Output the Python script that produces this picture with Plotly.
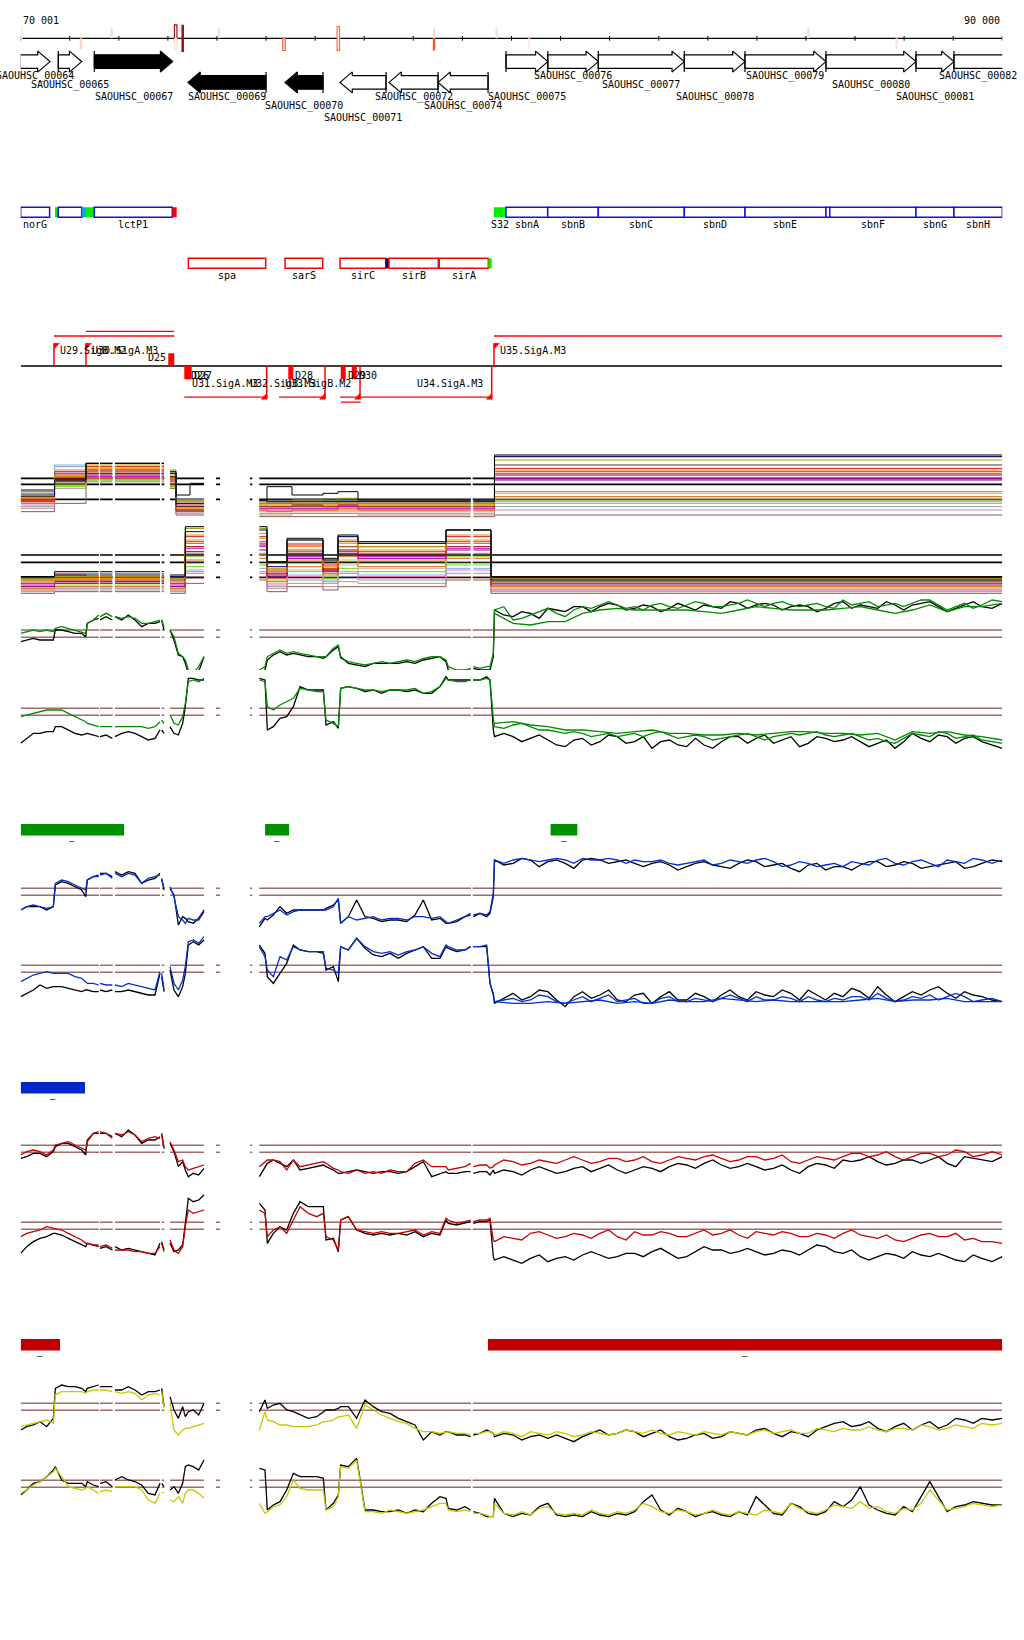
import plotly.graph_objects as go
from plotly.colors import sample_colorscale

W, H = 1024, 1640
XMIN, XMAX = 70001, 90000
FONT = "DejaVu Sans Mono"

# ---------------- genome scale ----------------
TICKS = [70001] + [71000 + 1000 * k for k in range(20)]
TSS_POS = [70001, 71230, 71855, 73159, 73159, 73302, 74041, 75366, 76472, 78422, 78422, 79699, 80363, 86047, 87848]
TSS_STRAND = ['+', '-', '+', '+', '-', 'b', '+', '-', 'b', '+', '-', '+', '-', '+', '-']
TSS_SCORE = [0.12, 0.16, 0.14, 0.88, 0.12, 0.9, 0.14, 0.55, 0.5, 0.12, 0.55, 0.13, 0.06, 0.14, 0.12]
TSS_FILLED = [0, 1, 1, 0, 0, 1, 1, 0, 0, 1, 1, 1, 1, 1, 1]

# ---------------- genes ----------------
GENE_IDS = ['SAOUHSC_00064', 'SAOUHSC_00065', 'SAOUHSC_00067', 'SAOUHSC_00069', 'SAOUHSC_00070',
            'SAOUHSC_00071', 'SAOUHSC_00072', 'SAOUHSC_00074', 'SAOUHSC_00075', 'SAOUHSC_00076',
            'SAOUHSC_00077', 'SAOUHSC_00078', 'SAOUHSC_00079', 'SAOUHSC_00080', 'SAOUHSC_00081',
            'SAOUHSC_00082']
GENE_START = [69990, 70767, 71501, 73409, 75386, 76507, 77505, 78504, 79889, 80740, 81769, 83521, 84757, 86407, 88241, 89015]
GENE_END = [70598, 71244, 73098, 74999, 76160, 77444, 78504, 79523, 80740, 81769, 83521, 84757, 86407, 88241, 89015, 90400]
GENE_STRAND = ['+', '+', '+', '-', '-', '-', '-', '-', '+', '+', '+', '+', '+', '+', '+', '+']
GENE_DARK = [0, 0, 1, 1, 1, 0, 0, 0, 0, 0, 0, 0, 0, 0, 0, 0]

# ---------------- annotated features ----------------
F1_START = [70001, 70700, 70767, 71244, 71331, 71501, 73090, 79642, 79888, 80738, 81769, 83521, 84758, 86407, 86485, 88241, 89015]
F1_END = [70590, 70767, 71244, 71331, 71501, 73090, 73179, 79888, 80738, 81769, 83521, 84758, 86407, 86485, 88241, 89015, 90000]
F1_KIND = ['box', 'lime', 'box', 'sky', 'lime', 'box', 'red', 'lime', 'box', 'box', 'box', 'box', 'box', 'box', 'box', 'box', 'box']
F1_LABEL = ['norG', '', '', '', '', 'lctP1', '', 'S32', 'sbnA', 'sbnB', 'sbnC', 'sbnD', 'sbnE', '', 'sbnF', 'sbnG', 'sbnH']
F2_START = [73416, 75386, 76507, 77437, 77504, 78530, 79528]
F2_END = [74993, 76154, 77437, 77504, 78509, 79528, 79597]
F2_KIND = ['box', 'box', 'box', 'navy', 'box', 'box', 'lime']
F2_LABEL = ['spa', 'sarS', 'sirC', '', 'sirB', 'sirA', '']

# ---------------- transcription units ----------------
TX_START = [70679, 71331, 79644, 73334, 75264, 76507, 76521]
TX_END = [73130, 73130, 90000, 75033, 76215, 79597, 76928]
TX_LEVEL = [1, 2, 1, -1, -1, -1, -2]
PROM_NAMES = ['U29.SigB.M2', 'U30.SigA.M3', 'U31.SigA.M3', 'U32.SigB.M3', 'U33.SigB.M2', 'U34.SigA.M3', 'U35.SigA.M3']
PROM_POS = [70679, 71331, 75013, 76201, 76914, 79597, 79644]
PROM_STRAND = ['+', '+', '-', '-', '-', '-', '+']
TERM_NAMES = ['D25', 'D26', 'D27', 'D28', 'D29', 'D30']
TERM_START = [73008, 73334, 73380, 75453, 76521, 76745]
TERM_END = [73130, 73440, 73485, 75555, 76623, 76847]
TERM_STRAND = ['+', '-', '-', '-', '-', '-']

# ---------------- coverage (probe positions with data) ----------------
REF_COVER = [[70001, 71596], [71617, 71875], [71922, 72839], [72874, 72927], [73043, 73736],
             [73980, 74062], [74673, 74720], [74862, 79175], [79210, 90000]]
LINE_COVER = [[70001, 71590], [71617, 71868], [71922, 72839], [72873, 72921], [73043, 73736],
              [74863, 79168], [79223, 90000]]

# ---------------- multi-condition profiles (step levels) ----------------
A_EDGES = [70001, 70690, 71331, 72921, 73043, 73165, 73450, 73736, 74836, 75019, 75528, 76160, 76466, 76873, 79654, 90000]
B_EDGES = [70001, 70690, 71331, 72921, 73043, 73355, 73736, 74836, 75019, 75427, 76160, 76466, 76873, 78666, 79583, 90000]
PROFILE_COLORS = {
    'black': '#000000', 'navy': '#00006e', 'olive': '#8b8b00', 'olive2': '#b0a000', 'black2': '#3a3a3a',
    'red': '#e01010', 'orange': '#ff8c00', 'brown': '#a0522d', 'orangered': '#ff4500', 'darkred': '#8b0000',
    'magenta': '#cc00cc', 'purple': '#800080', 'orange2': '#e8701a', 'olive3': '#9acd32', 'orange3': '#d2691e',
    'tan': '#d2b48c', 'lime': '#66dd00', 'lightblue': '#6fb0ff', 'pink': '#ff69b4', 'grey': '#999999',
    'rosy': '#bc8f8f', 'sienna': '#8b5a4a'}
A_PROFILES = [
    ('black', [170, 176, 186, 181, 167, 174, 164, 172, 167, 168, 169, 164, 191]),
    ('navy', [167, 176, 186, 180, 162, 162, 164, 163, 163, 163, 163, 163, 190]),
    ('olive', [169, 180, 186, 182, 164, 164, 163, 162, 164, 163, 165, 163, 190]),
    ('olive2', [168, 178, 185, 179, 163, 163, 162, 162, 162, 162, 162, 162, 188]),
    ('black2', [166, 175, 180, 178, 160, 160, 164, 164, 164, 164, 164, 164, 185]),
    ('red', [166, 179, 184, 180, 161, 161, 162, 162, 162, 162, 163, 162, 183]),
    ('orange', [165, 176, 183, 177, 159, 159, 161, 161, 162, 161, 162, 161, 182]),
    ('brown', [166, 174, 182, 176, 158, 158, 160, 160, 160, 160, 161, 160, 181]),
    ('orangered', [164, 178, 181, 175, 162, 162, 162, 162, 162, 162, 162, 162, 180]),
    ('darkred', [164, 177, 179, 178, 160, 160, 160, 160, 161, 160, 161, 160, 179]),
    ('magenta', [163, 181, 178, 174, 157, 157, 159, 159, 159, 159, 160, 159, 177]),
    ('purple', [165, 180, 180, 178, 158, 158, 160, 160, 160, 160, 160, 160, 176]),
    ('orange2', [164, 174, 177, 176, 160, 160, 158, 158, 158, 158, 159, 158, 169]),
    ('olive3', [168, 173, 184, 180, 164, 164, 161, 161, 161, 161, 162, 161, 168]),
    ('orange3', [162, 174, 182, 173, 158, 158, 158, 157, 158, 158, 158, 158, 166]),
    ('tan', [162, 182, 182, 174, 156, 156, 157, 157, 157, 157, 157, 157, 165]),
    ('lime', [163, 172, 176, 172, 162, 162, 161, 160, 161, 161, 161, 161, 164]),
    ('lightblue', [163, 185, 178, 174, 164, 164, 164, 163, 164, 164, 164, 164, 163]),
    ('pink', [161, 182, 180, 176, 160, 160, 158, 158, 158, 158, 159, 158, 162]),
    ('grey', [160, 184, 176, 172, 156, 156, 156, 156, 156, 156, 156, 156, 160]),
    ('rosy', [159, 171, 175, 172, 156, 156, 155, 155, 156, 156, 156, 155, 158]),
    ('sienna', [157, 162, 174, 171, 155, 155, 154, 154, 154, 154, 154, 154, 155]),
]
B_PROFILES = [
    ('black', [118, 121, 121, 119, 148, 148, 127, 141, 129, 143, 139, 146, 118]),
    ('navy', [118, 119, 119, 118, 145, 146, 124, 140, 128, 142, 138, 146, 116]),
    ('olive', [117, 120, 120, 118, 147, 147, 126, 140, 128, 142, 138, 146, 117]),
    ('olive2', [116, 118, 118, 117, 143, 144, 123, 138, 126, 140, 136, 143, 116]),
    ('red', [116, 119, 118, 116, 142, 142, 122, 137, 125, 139, 136, 142, 118]),
    ('orange', [115, 117, 117, 115, 140, 141, 121, 136, 124, 138, 134, 140, 116]),
    ('brown', [114, 116, 116, 114, 139, 139, 120, 134, 123, 136, 133, 139, 115]),
    ('orangered', [114, 116, 116, 114, 138, 138, 121, 133, 123, 136, 132, 138, 114]),
    ('darkred', [114, 115, 115, 114, 136, 137, 120, 132, 122, 134, 131, 136, 114]),
    ('magenta', [113, 114, 114, 113, 135, 136, 119, 130, 122, 133, 130, 135, 114]),
    ('purple', [112, 114, 114, 112, 133, 134, 118, 129, 121, 132, 129, 134, 113]),
    ('orange2', [112, 114, 114, 112, 132, 132, 117, 128, 120, 130, 128, 132, 112]),
    ('olive3', [112, 113, 113, 112, 130, 131, 116, 126, 120, 128, 126, 130, 112]),
    ('orange3', [111, 112, 112, 111, 128, 129, 115, 124, 119, 127, 124, 129, 112]),
    ('tan', [110, 112, 112, 110, 126, 127, 114, 122, 118, 125, 123, 127, 111]),
    ('lime', [118, 118, 118, 117, 124, 125, 119, 121, 117, 123, 121, 125, 114]),
    ('lightblue', [117, 118, 118, 116, 122, 123, 117, 119, 116, 121, 119, 123, 116]),
    ('pink', [110, 112, 112, 110, 121, 121, 113, 118, 115, 120, 118, 122, 110]),
    ('grey', [110, 111, 111, 110, 120, 120, 112, 116, 114, 118, 116, 120, 110]),
    ('rosy', [109, 110, 110, 109, 117, 118, 111, 114, 112, 115, 114, 118, 109]),
    ('sienna', [108, 109, 109, 108, 114, 116, 109, 112, 110, 112, 112, 116, 108]),
]
A_REF = [177, 173.4, 164.4]
B_REF = [131, 126.6, 117.6]

# ---------------- probe positions for two-condition profiles ----------------
XS = [
    [70001, 70123, 70258, 70394, 70530, 70666, 70707, 70836, 70971, 71107, 71243, 71325, 71358, 71481, 71590],
    [71617, 71739, 71868],
    [71922, 72058, 72194, 72330, 72466, 72601, 72737, 72839],
    [72873, 72921],
    [73043, 73124, 73213, 73301, 73355, 73416, 73518, 73627, 73736],
    [74863, 74978, 75026, 75148, 75284, 75420, 75556, 75692, 75861, 76031, 76167, 76221, 76371, 76472, 76520, 76676,
     76846, 77016, 77185, 77355, 77525, 77695, 77865, 78034, 78204, 78374, 78543, 78665, 78713, 78883, 79052, 79168],
    [79223, 79358, 79494, 79562, 79630, 79654, 80033, 80387, 80742, 81095, 81447, 81802, 82156, 82509, 82863, 83216,
     83570, 83924, 84277, 84631, 84984, 85338, 85693, 86045, 86400, 86754, 87107, 87461, 87814, 88168, 88523, 88876,
     89230, 89583, 90000],
]
# extra probes between the right-hand positions (after the first 5 of the last block)
X_MID = [79844, 80210, 80565, 80918, 81271, 81625, 81979, 82333, 82686, 83040, 83393, 83747, 84101, 84454, 84808,
         85161, 85516, 85869, 86223, 86577, 86931, 87284, 87638, 87991, 88346, 88700, 89053, 89407, 89792]
NONE5 = [None] * 5

C_TOP_BLACK = [
    [79, 80, 81, 80, 80, 80, 86, 86, 85, 84, 84, 82, 90, 92, 93], [92, 94, 92], [94, 92, 95, 92, 88, 90, 90, 91], [92, 86],
    [86, 80, 71, 70, 66, 60, 59, 61, 70],
    [61, 62, 68, 71, 73, 71, 72, 71, 70, 70, 69, 70, 74, 76, 70, 66, 65, 64, 66, 66, 66, 66, 67, 66, 68, 69, 70, 67, 62, 60, 61, 62],
    [63, 62, 62, 62, 70, 98, 94, 96, 99, 97, 100, 100, 101, 99, 100, 99, 100, 101, 99, 102, 101, 101, 100, 100, 99, 103, 101, 99, 101, 101, 103, 97, 101, 100, 102]]
C_TOP_BLACK_MID = [95, 97, 93, 98, 100, 97, 102, 98, 101, 97, 102, 98, 100, 103, 99, 102, 98, 101, 97, 102, 99, 100, 103, 98, 102, 100, 99, 103, 99]
C_TOP_GREEN = [
    [84, 85, 86, 85, 86, 85, 87, 88, 87, 86, 85, 84, 90, 92, 95], [94, 96, 94], [94, 93, 94, 93, 90, 90, 91, 92], [92, 88],
    [86, 82, 72, 70, 68, 62, 60, 64, 70],
    [62, 64, 70, 72, 74, 72, 73, 72, 71, 70, 70, 70, 75, 77, 69, 67, 66, 65, 66, 67, 66, 67, 68, 67, 69, 70, 70, 68, 64, 62, 62, 63],
    [64, 63, 64, 64, 72, 98, 92, 95, 99, 94, 100, 101, 101, 100, 101, 100, 101, 102, 100, 102, 102, 102, 101, 101, 100, 104, 102, 100, 102, 102, 104, 98, 102, 101, 103]]
C_TOP_GREEN_MID = [100, 93, 97, 96, 98, 99, 103, 99, 98, 102, 99, 103, 100, 101, 104, 100, 103, 100, 102, 99, 101, 103, 101, 100, 104, 101, 100, 99, 104]
C_TOP_GREEN2 = [[], [], [], [], [], [],
    NONE5 + [96, 90, 89, 91, 91, 96, 98, 99, 98, 98, 98, 98, 97, 96, 98, 100, 99, 98, 98, 98, 99, 100, 98, 96, 98, 101, 97, 100, 100, 102]]

D_BLACK = [
    [18, 21, 24, 24, 25, 25, 28, 28, 26, 24, 23, 24, 24, 23, 22], [22, 23, 21], [22, 24, 25, 24, 22, 20, 21, 26], [26, 24],
    [28, 24, 23, 30, 40, 57, 57, 56, 56],
    [57, 56, 26, 28, 33, 34, 40, 52, 50, 50, 50, 29, 31, 27, 51, 52, 51, 49, 50, 48, 50, 50, 49, 50, 48, 48, 52, 58, 56, 56, 56, 56],
    [56, 56, 58, 56, 26, 22, 22, 21, 20, 16, 21, 19, 22, 19, 15, 20, 16, 17, 19, 22, 21, 18, 22, 18, 21, 20, 19, 18, 15, 24, 19, 22, 21, 19, 15]]
D_BLACK_MID = [24, 19, 23, 17, 20, 17, 23, 18, 22, 19, 17, 21, 15, 22, 18, 23, 20, 16, 22, 19, 22, 16, 20, 19, 21, 23, 18, 22, 17]
D_GREEN = [
    [34, 35, 36, 37, 38, 38, 38, 38, 36, 34, 32, 31, 30, 29, 28], [28, 28, 28], [28, 28, 28, 28, 28, 27, 28, 31], [32, 30],
    [35, 30, 29, 34, 42, 55, 56, 55, 57],
    [56, 55, 40, 38, 41, 43, 45, 51, 50, 49, 49, 32, 30, 28, 51, 52, 51, 50, 50, 49, 50, 50, 50, 51, 48, 49, 52, 57, 56, 55, 55, 56],
    [56, 56, 57, 56, 33, 28, 29, 28, 26, 24, 24, 23, 22, 24, 24, 23, 22, 22, 21, 23, 22, 22, 24, 24, 23, 23, 22, 21, 18, 24, 22, 24, 22, 20, 18]]
D_GREEN_MID = [27, 30, 26, 25, 25, 22, 24, 23, 22, 25, 21, 23, 20, 22, 24, 20, 23, 23, 25, 22, 24, 20, 19, 21, 23, 25, 21, 23, 19]
D_GREEN2 = [[], [], [], [], [], [],
    NONE5 + [30, 31, 29, 28, 26, 26, 25, 24, 25, 26, 24, 24, 23, 23, 24, 23, 24, 25, 25, 24, 24, 23, 24, 20, 25, 24, 25, 23, 22, 20]]

E_TOP_BLACK = [
    [140, 142, 142, 142, 140, 142, 155, 157, 156, 154, 152, 148, 158, 160, 161], [162, 162, 160],
    [163, 161, 163, 162, 156, 158, 159, 162], [159, 152], [153, 149, 131, 136, 135, 133, 132, 135, 140],
    [130, 135, 134, 137, 142, 138, 140, 140, 140, 140, 140, 141, 143, 146, 132, 136, 146, 136, 135, 133, 134, 134, 133, 137, 146, 134, 135, 132, 132, 133, 136, 137],
    [136, 138, 136, 138, 148, 170, 168, 170, 169, 168, 170, 170, 169, 168, 168, 167, 166, 169, 166, 168, 169, 167, 165, 167, 164, 166, 167, 169, 167, 168, 166, 168, 165, 168, 169]]
E_TOP_BLACK_MID = [167, 171, 166, 170, 165, 171, 168, 170, 166, 169, 164, 168, 167, 165, 170, 166, 168, 163, 168, 166, 164, 169, 166, 169, 165, 167, 169, 166, 170]
E_TOP_BLUE = [
    [140, 142, 143, 142, 141, 142, 156, 158, 157, 155, 153, 152, 158, 160, 160], [161, 162, 159],
    [162, 160, 162, 161, 156, 159, 160, 161], [158, 153], [154, 148, 136, 134, 132, 135, 134, 134, 139],
    [132, 136, 136, 138, 140, 137, 139, 140, 140, 140, 140, 140, 142, 147, 132, 136, 134, 135, 136, 134, 135, 135, 134, 136, 136, 135, 136, 133, 132, 134, 136, 138],
    [137, 138, 137, 139, 150, 170, 170, 170, 170, 170, 171, 170, 170, 170, 169, 168, 168, 170, 168, 169, 170, 169, 167, 168, 167, 166, 168, 170, 168, 169, 168, 170, 168, 170, 170]]
E_TOP_BLUE_MID = [168, 171, 169, 171, 168, 170, 171, 168, 169, 170, 167, 169, 167, 170, 168, 171, 166, 169, 166, 168, 169, 167, 171, 167, 170, 166, 169, 171, 168]
E_BOT_BLACK = [
    [88, 90, 92, 95, 93, 94, 94, 94, 93, 92, 91, 92, 92, 91, 91], [92, 91, 92], [91, 91, 92, 91, 90, 89, 89, 102], [100, 91],
    [104, 92, 88, 94, 102, 119, 121, 119, 122],
    [119, 114, 100, 96, 102, 108, 119, 116, 115, 115, 114, 104, 106, 97, 118, 116, 123, 117, 113, 112, 114, 111, 114, 116, 118, 111, 111, 118, 117, 115, 116, 118],
    [118, 118, 118, 96, 89, 84, 90, 88, 91, 82, 91, 89, 86, 89, 84, 91, 86, 88, 89, 88, 91, 88, 90, 92, 86, 88, 91, 94, 85, 91, 92, 90, 91, 88, 85]]
E_BOT_BLACK_MID = [87, 86, 92, 86, 88, 87, 92, 85, 90, 88, 86, 90, 85, 92, 86, 89, 92, 86, 89, 90, 93, 87, 89, 88, 89, 94, 87, 89, 86]
E_BOT_BLUE = [
    [97, 99, 101, 102, 103, 102, 102, 102, 102, 100, 99, 97, 96, 96, 95], [96, 95, 95], [95, 94, 96, 95, 94, 93, 92, 103], [102, 92],
    [106, 96, 92, 98, 106, 121, 122, 120, 124],
    [118, 112, 104, 100, 112, 110, 118, 116, 115, 115, 115, 105, 104, 102, 118, 116, 123, 118, 115, 114, 115, 113, 115, 116, 118, 114, 112, 119, 118, 116, 116, 118],
    [118, 118, 119, 96, 90, 85, 87, 86, 88, 84, 88, 87, 85, 87, 84, 88, 85, 86, 87, 87, 88, 86, 87, 88, 85, 86, 88, 90, 85, 88, 89, 88, 88, 86, 85]]
E_BOT_BLUE_MID = [86, 85, 89, 85, 86, 85, 89, 86, 84, 87, 85, 87, 85, 89, 85, 86, 88, 85, 86, 87, 88, 86, 87, 86, 87, 86, 90, 85, 87]
E_BOT_BLUE2 = [[], [], [], [], [], [],
    NONE5 + [85, 84, 84, 85, 84, 85, 86, 84, 85, 84, 86, 85, 85, 87, 86, 85, 86, 85, 85, 85, 85, 86, 87, 85, 86, 86, 87, 85, 85, 85]]

G_TOP_BLACK = [
    [147, 148, 150, 150, 148, 151, 154, 156, 156, 154, 152, 149, 158, 162, 162], [162, 162, 160],
    [162, 160, 164, 161, 156, 158, 158, 160], [162, 153], [156, 151, 142, 145, 140, 136, 138, 137, 141],
    [136, 142, 144, 146, 144, 142, 146, 140, 141, 142, 143, 142, 140, 138, 138, 139, 140, 139, 138, 139, 139, 138, 139, 142, 145, 136, 138, 139, 138, 138, 139, 139],
    [138, 139, 139, 137, 140, 138, 139, 140, 140, 139, 142, 141, 140, 140, 141, 142, 143, 144, 143, 142, 142, 141, 140, 142, 143, 146, 146, 145, 144, 146, 146, 144, 148, 146, 148]]
G_TOP_BLACK_MID = [140, 137, 142, 138, 141, 139, 143, 138, 142, 139, 144, 141, 146, 141, 144, 140, 143, 138, 144, 141, 145, 148, 143, 146, 144, 148, 142, 147, 145]
G_TOP_RED = [
    [149, 151, 152, 151, 149, 152, 155, 156, 157, 155, 153, 152, 157, 162, 163], [163, 162, 159],
    [162, 161, 163, 161, 157, 159, 160, 159], [161, 153], [157, 152, 145, 146, 142, 140, 141, 142, 143],
    [142, 145, 146, 146, 145, 140, 146, 142, 143, 144, 145, 144, 141, 140, 139, 138, 140, 138, 139, 138, 140, 139, 139, 144, 146, 142, 142, 142, 140, 141, 142, 144],
    [142, 143, 143, 141, 142, 143, 145, 144, 145, 146, 146, 145, 147, 146, 145, 146, 147, 148, 147, 146, 148, 147, 145, 146, 147, 148, 150, 149, 148, 148, 150, 149, 151, 149, 149]]
G_TOP_RED_MID = [146, 143, 146, 144, 148, 144, 147, 145, 148, 144, 148, 146, 149, 145, 148, 146, 149, 144, 148, 146, 150, 148, 151, 146, 150, 148, 152, 148, 151]
G_BOT_BLACK = [
    [90, 94, 97, 99, 100, 102, 102, 101, 99, 97, 95, 94, 96, 95, 94], [93, 94, 92], [94, 92, 93, 92, 91, 90, 89, 96], [97, 92],
    [96, 91, 92, 95, 108, 123, 121, 122, 125],
    [120, 116, 96, 102, 106, 104, 114, 121, 118, 118, 118, 98, 99, 91, 110, 112, 104, 102, 101, 102, 101, 102, 101, 103, 100, 102, 101, 110, 108, 107, 108, 109],
    [108, 109, 109, 110, 88, 86, 86, 87, 85, 88, 89, 89, 88, 90, 91, 90, 88, 94, 92, 91, 91, 90, 91, 92, 94, 90, 88, 88, 89, 91, 88, 88, 85, 87, 88]]
G_BOT_BLACK_MID = [88, 84, 89, 87, 86, 91, 87, 90, 88, 93, 87, 91, 92, 90, 93, 89, 92, 89, 95, 91, 92, 86, 90, 87, 89, 90, 86, 89, 85]
G_BOT_RED = [
    [100, 102, 103, 104, 106, 105, 105, 104, 102, 100, 98, 96, 96, 95, 95], [94, 95, 93], [92, 92, 92, 91, 91, 90, 90, 94], [96, 91],
    [98, 92, 90, 94, 106, 116, 114, 115, 116],
    [116, 114, 100, 104, 106, 102, 110, 118, 114, 112, 114, 100, 98, 92, 110, 112, 104, 103, 102, 103, 102, 102, 103, 104, 101, 103, 102, 111, 110, 108, 109, 110],
    [109, 110, 110, 111, 98, 97, 99, 102, 101, 100, 101, 102, 100, 103, 101, 102, 100, 104, 102, 101, 103, 101, 102, 100, 101, 102, 101, 99, 98, 99, 102, 100, 98, 97, 96]]
G_BOT_RED_MID = [100, 98, 103, 99, 102, 99, 104, 98, 101, 103, 100, 102, 101, 104, 99, 102, 103, 100, 102, 99, 104, 100, 101, 97, 101, 100, 102, 99, 97]

I_TOP_BLACK = [
    [140, 142, 143, 145, 142, 147, 165, 167, 166, 166, 165, 163, 165, 166, 167], [166, 166, 166],
    [164, 164, 166, 164, 161, 163, 163, 164], [165, 154], [160, 152, 147, 154, 148, 151, 152, 149, 156],
    [151, 158, 153, 155, 156, 152, 151, 149, 147, 148, 151, 152, 152, 153, 154, 154, 147, 158, 154, 151, 150, 147, 145, 143, 134, 139, 137, 139, 139, 137, 137, 136],
    [137, 138, 140, 139, 138, 136, 137, 136, 135, 135, 136, 140, 138, 139, 138, 136, 135, 138, 136, 138, 140, 138, 139, 136, 142, 145, 143, 141, 142, 140, 145, 143, 146, 147, 147]]
I_TOP_BLACK_MID = [138, 134, 137, 137, 133, 138, 137, 140, 136, 140, 134, 137, 135, 139, 137, 141, 136, 138, 140, 144, 142, 145, 139, 144, 143, 141, 147, 144, 146]
I_TOP_YELLOW = [
    [142, 143, 144, 145, 146, 144, 161, 163, 163, 163, 163, 162, 163, 164, 164], [164, 164, 163],
    [163, 162, 163, 162, 158, 161, 162, 161], [163, 153], [156, 140, 137, 140, 141, 141, 142, 143, 144],
    [140, 151, 146, 145, 143, 143, 142, 142, 142, 143, 145, 145, 146, 148, 148, 149, 141, 155, 152, 149, 147, 145, 144, 141, 139, 139, 138, 139, 139, 138, 138, 137],
    [138, 138, 139, 139, 138, 137, 138, 139, 137, 138, 137, 138, 138, 139, 140, 137, 138, 139, 137, 138, 139, 138, 140, 138, 140, 141, 140, 140, 141, 140, 142, 141, 142, 144, 144]]
I_TOP_YELLOW_MID = [139, 136, 138, 139, 136, 139, 137, 140, 138, 138, 139, 137, 138, 139, 137, 140, 139, 138, 141, 139, 140, 142, 139, 141, 143, 140, 143, 141, 143]
I_BOT_BLACK = [
    [101, 104, 108, 109, 112, 116, 118, 110, 108, 108, 108, 106, 109, 107, 106], [108, 109, 106],
    [110, 112, 110, 109, 107, 102, 101, 108], [108, 106], [104, 106, 102, 108, 118, 119, 118, 116, 122],
    [117, 116, 92, 95, 97, 104, 114, 112, 112, 112, 111, 92, 96, 101, 119, 118, 123, 92, 92, 91, 91, 92, 90, 92, 91, 96, 100, 99, 93, 92, 94, 92],
    [91, 90, 88, 88, 88, 99, 88, 89, 96, 88, 88, 89, 90, 91, 101, 89, 91, 90, 89, 91, 100, 90, 96, 90, 91, 94, 106, 92, 89, 91, 109, 91, 95, 96, 95]]
I_BOT_BLACK_MID = [90, 90, 94, 89, 89, 91, 88, 89, 97, 92, 93, 88, 91, 88, 89, 95, 89, 94, 89, 97, 98, 95, 90, 94, 100, 100, 94, 97, 95]
I_BOT_YELLOW = [
    [102, 104, 107, 109, 112, 115, 117, 112, 106, 105, 104, 105, 106, 104, 102], [103, 104, 103],
    [106, 106, 106, 106, 104, 98, 96, 102], [103, 102], [98, 97, 100, 96, 102, 104, 104, 102, 99],
    [96, 90, 91, 94, 95, 100, 110, 105, 104, 104, 104, 92, 94, 100, 118, 117, 122, 91, 91, 90, 92, 91, 90, 91, 92, 94, 96, 96, 92, 91, 92, 91],
    [90, 90, 89, 88, 88, 96, 89, 89, 94, 89, 89, 90, 91, 92, 94, 90, 91, 90, 90, 91, 89, 91, 96, 91, 92, 94, 97, 94, 90, 92, 104, 92, 94, 95, 95]]
I_BOT_YELLOW_MID = [90, 91, 93, 90, 90, 92, 89, 90, 96, 91, 92, 89, 92, 89, 90, 92, 90, 93, 90, 95, 93, 93, 91, 93, 96, 98, 93, 96, 94]

C_REF, D_REF = [86, 81.6], [39, 34.8]
E_TOP_REF, E_BOT_REF = [153, 148.8], [106.8, 102.6]
G_TOP_REF, G_BOT_REF = [154.8, 150.6], [108.6, 104.4]
I_TOP_REF, I_BOT_REF = [156, 151.8], [109.8, 105.6]

# significance bars above panels
E_BAR_START, E_BAR_END = [70001, 74980, 80797], [72108, 75469, 81341]
G_BAR_START, G_BAR_END = [70001], [71311]
I_BAR_START, I_BAR_END = [70001, 79520], [70802, 90000]

# =====================================================================
fig = go.Figure()
layout = dict(width=W, height=H, margin=dict(l=0, r=0, t=0, b=0), paper_bgcolor='white',
              plot_bgcolor='white', showlegend=False,
              xaxis=dict(domain=[20.7 / W, 1002.3 / W], range=[XMIN, XMAX], visible=False,
                         fixedrange=True, anchor='y'))
shapes, annots = [], []


def yax(n, top, bot, rng):
    key = 'yaxis' if n == 1 else 'yaxis%d' % n
    layout[key] = dict(domain=[1 - bot / H, 1 - top / H], range=rng, visible=False,
                       fixedrange=True, anchor='x')
    return 'y' if n == 1 else 'y%d' % n


def add_line(x, y, ya, color, width=1.0):
    fig.add_trace(go.Scatter(x=x, y=y, xaxis='x', yaxis=ya, mode='lines',
                             line=dict(color=color, width=width), hoverinfo='skip'))


def add_poly(x, y, ya, fill, color, width=1.0):
    fig.add_trace(go.Scatter(x=x, y=y, xaxis='x', yaxis=ya, mode='lines', fill='toself',
                             fillcolor=fill, line=dict(color=color, width=width), hoverinfo='skip'))


def text(x, y, s, yref, xanchor='center', size=10, color='black'):
    annots.append(dict(x=x, y=y, xref='x', yref=yref, text=s, showarrow=False, xanchor=xanchor,
                       yanchor='middle', font=dict(family=FONT, size=size, color=color)))


def paper(px):
    return 1 - px / H


# ---------------- scale ----------------
ya = yax(1, 18.3, 58.3, [-2, 2])
add_line([XMIN, XMAX], [0, 0], ya, 'black', 1.2)
tx, ty = [], []
for t in TICKS:
    tx += [t, t, None]
    ty += [0.23, -0.24, None]
add_line(tx, ty, ya, 'black', 1.0)
for p, s, sc, f in zip(TSS_POS, TSS_STRAND, TSS_SCORE, TSS_FILLED):
    col = sample_colorscale('Reds', [sc])[0]
    h = 1.0 + 0.4 * sc
    y0, y1 = {'+': (0, h), '-': (-h, 0), 'b': (-h, h)}[s]
    shapes.append(dict(type='rect', xref='x', yref=ya, x0=p - 25, x1=p + 25, y0=y0, y1=y1,
                       line=dict(color=col, width=0 if f else 1.2),
                       fillcolor=col if f else 'white', layer='above'))
annots.append(dict(x=XMIN, y=paper(20.7), xref='x', yref='paper', text='70 001', showarrow=False,
                   xanchor='left', yanchor='middle', font=dict(family=FONT, size=10, color='black')))
annots.append(dict(x=XMAX, y=paper(20.7), xref='x', yref='paper', text='90 000', showarrow=False,
                   xanchor='right', yanchor='middle', font=dict(family=FONT, size=10, color='black')))

# ---------------- genes ----------------
ya = yax(2, 48, 96, [-2.4, 2.4])
HEAD, BODY, HEADH, CEN = 250, 0.68, 1.05, 1.04
FWD_ROWS, REV_ROWS = [76, 85, 97.3], [97.3, 106, 117.7]
for i, (gid, s, e, st, dark) in enumerate(zip(GENE_IDS, GENE_START, GENE_END, GENE_STRAND, GENE_DARK)):
    fill = 'black' if dark else 'white'
    hl = min(HEAD, e - s)
    if st == '+':
        c = CEN
        xs = [s, e - hl, e - hl, e, e - hl, e - hl, s, s]
        ys = [c - BODY, c - BODY, c - HEADH, c, c + HEADH, c + BODY, c + BODY, c - BODY]
        bar_x = s
        row_y = FWD_ROWS[i % 3]
    else:
        c = -CEN
        xs = [e, s + hl, s + hl, s, s + hl, s + hl, e, e]
        ys = [c - BODY, c - BODY, c - HEADH, c, c + HEADH, c + BODY, c + BODY, c - BODY]
        bar_x = e
        row_y = REV_ROWS[i % 3]
    add_poly(xs, ys, ya, fill, 'black', 1.2)
    if bar_x > XMIN:
        add_line([bar_x, bar_x], [c - HEADH, c + HEADH], ya, 'black', 1.2)
    cx = (max(s, XMIN) + min(e, XMAX)) / 2
    annots.append(dict(x=cx, y=paper(row_y), xref='x', yref='paper', text=gid, showarrow=False,
                       xanchor='center', yanchor='middle', font=dict(family=FONT, size=10, color='black')))

# ---------------- features ----------------
ya = yax(3, 200, 280, [-4, 4])
FILLS = {'lime': '#00f000', 'sky': '#1e9bf0', 'red': '#ff0000', 'navy': '#000080'}
for starts, ends, kinds, labels, yc, ylab, outline in [
        (F1_START, F1_END, F1_KIND, F1_LABEL, 2.77, 1.6, '#1010e8'),
        (F2_START, F2_END, F2_KIND, F2_LABEL, -2.33, -3.57, '#ff0000')]:
    for s, e, k, lab in zip(starts, ends, kinds, labels):
        if k == 'box':
            shapes.append(dict(type='rect', xref='x', yref=ya, x0=s, x1=e, y0=yc - 0.5, y1=yc + 0.5,
                               line=dict(color=outline, width=1.5), fillcolor='white'))
        else:
            shapes.append(dict(type='rect', xref='x', yref=ya, x0=s, x1=e, y0=yc - 0.5, y1=yc + 0.5,
                               line=dict(width=0), fillcolor=FILLS[k]))
        if lab:
            text((s + e) / 2, ylab, lab, ya)

# ---------------- transcripts / promoters / terminators ----------------
ya = yax(4, 325, 405, [-3.9, 4.1])
add_line([XMIN, XMAX], [0, 0], ya, 'black', 1.5)
for s, e, lv in zip(TX_START, TX_END, TX_LEVEL):
    yv = (3.0 + 0.47 * (abs(lv) - 1)) * (1 if lv > 0 else -1.04)
    add_line([s, e], [yv, yv], ya, '#ff0000', 1.3)
for name, p, st in zip(PROM_NAMES, PROM_POS, PROM_STRAND):
    if st == '+':
        add_line([p, p], [0, 2.27], ya, '#ff0000', 1.5)
        add_poly([p, p + 110, p, p], [2.27, 2.27, 1.67, 2.27], ya, '#ff0000', '#ff0000', 0.5)
        text(p + 88, 1.57, name, ya, 'left')
    else:
        add_line([p, p], [0, -3.33], ya, '#ff0000', 1.5)
        add_poly([p, p - 110, p, p], [-3.33, -3.33, -2.73, -3.33], ya, '#ff0000', '#ff0000', 0.5)
        text(p - 136, -1.73, name, ya, 'right')
for name, s, e, st in zip(TERM_NAMES, TERM_START, TERM_END, TERM_STRAND):
    if st == '+':
        shapes.append(dict(type='rect', xref='x', yref=ya, x0=s, x1=e, y0=0, y1=1.27,
                           line=dict(width=0), fillcolor='#ff0000'))
        text(s, 0.83, name, ya, 'right')
    else:
        shapes.append(dict(type='rect', xref='x', yref=ya, x0=s, x1=e, y0=-1.33, y1=0,
                           line=dict(width=0), fillcolor='#ff0000'))
        text(e, -0.9, name, ya, 'left')


# ---------------- helpers for profiles ----------------
def ref_lines(levels, ya, color, width=1.5):
    for v in levels:
        xs, ys = [], []
        for a, b in REF_COVER:
            xs += [a, b, None]
            ys += [v, v, None]
        add_line(xs, ys, ya, color, width)


def step_xy(edges, levels):
    xs, ys = [], []
    for cs, ce in LINE_COVER:
        px, py = [], []
        for i in range(len(edges) - 1):
            v = levels[i]
            if v is None:
                continue
            a, b = max(edges[i], cs), min(edges[i + 1], ce)
            if a < b:
                px += [a, b]
                py += [v, v]
        if px:
            xs += px + [None]
            ys += py + [None]
    return xs, ys


def series_xy(vals, mids=None):
    xs, ys = [], []
    last = len(XS) - 1
    for k, (xseg, vseg) in enumerate(zip(XS, vals)):
        n = min(len(xseg), len(vseg))
        if n == 0:
            continue
        xk, yk = list(xseg[:n]), list(vseg[:n])
        if k == last and mids:
            # interleave the extra probes between the right-hand positions
            nx, ny = xk[:5], yk[:5]
            for j in range(5, len(xk)):
                nx.append(xk[j])
                ny.append(yk[j])
                m = j - 5
                if m < len(mids) and m < len(X_MID) and j + 1 < len(xk):
                    nx.append(X_MID[m])
                    ny.append(mids[m])
            xk, yk = nx, ny
        if xs:
            xs.append(None)
            ys.append(None)
        xs += xk
        ys += yk
    return xs, ys


# ---------------- multi-condition panels ----------------
ya = yax(5, 450, 520, [152, 194])
ref_lines(A_REF, ya, 'black', 1.6)
for name, lv in reversed(A_PROFILES):
    full = lv[:3] + [None] + lv[3:6] + [None] + lv[6:]
    x, y = step_xy(A_EDGES, full)
    add_line(x, y, ya, PROFILE_COLORS[name], 1.0)

ya = yax(6, 522, 598, [105.2, 150.8])
ref_lines(B_REF, ya, 'black', 1.6)
for name, lv in reversed(B_PROFILES):
    full = lv[:3] + [None] + lv[3:5] + [None] + lv[5:]
    x, y = step_xy(B_EDGES, full)
    add_line(x, y, ya, PROFILE_COLORS[name], 1.0)

# ---------------- two-condition panels ----------------
BROWN = '#a06a6a'
GREEN, BLUE, RED, YELLOW = '#008c00', '#0030d0', '#c80000', '#c8c800'
PANELS = [
    (7, 598, 682, [54.8, 105.2], C_REF,
     [(C_TOP_BLACK, C_TOP_BLACK_MID, 'black'), (C_TOP_GREEN2, None, GREEN), (C_TOP_GREEN, C_TOP_GREEN_MID, GREEN)]),
    (8, 670, 762, [6.8, 62], D_REF,
     [(D_BLACK, D_BLACK_MID, 'black'), (D_GREEN2, None, GREEN), (D_GREEN, D_GREEN_MID, GREEN)]),
    (9, 848, 930, [128, 177.2], E_TOP_REF,
     [(E_TOP_BLACK, E_TOP_BLACK_MID, 'black'), (E_TOP_BLUE, E_TOP_BLUE_MID, BLUE)]),
    (10, 930, 1016, [76.4, 128], E_BOT_REF,
     [(E_BOT_BLACK, E_BOT_BLACK_MID, 'black'), (E_BOT_BLUE2, None, BLUE), (E_BOT_BLUE, E_BOT_BLUE_MID, BLUE)]),
    (11, 1108, 1186, [130.4, 177.2], G_TOP_REF,
     [(G_TOP_BLACK, G_TOP_BLACK_MID, 'black'), (G_TOP_RED, G_TOP_RED_MID, RED)]),
    (12, 1186, 1272, [78.8, 130.4], G_BOT_REF,
     [(G_BOT_BLACK, G_BOT_BLACK_MID, 'black'), (G_BOT_RED, G_BOT_RED_MID, RED)]),
    (13, 1368, 1450, [128, 177.2], I_TOP_REF,
     [(I_TOP_BLACK, I_TOP_BLACK_MID, 'black'), (I_TOP_YELLOW, I_TOP_YELLOW_MID, YELLOW)]),
    (14, 1450, 1535, [77, 128], I_BOT_REF,
     [(I_BOT_BLACK, I_BOT_BLACK_MID, 'black'), (I_BOT_YELLOW, I_BOT_YELLOW_MID, YELLOW)]),
]
for n, top, bot, rng, refs, series in PANELS:
    ya = yax(n, top, bot, rng)
    ref_lines(refs, ya, BROWN, 1.5)
    for vals, mids, col in series:
        x, y = series_xy(vals, mids)
        add_line(x, y, ya, col, 1.3)

# ---------------- significance bars ----------------
for n, top, bot, starts, ends, col in [(15, 816, 846, E_BAR_START, E_BAR_END, '#009000'),
                                       (16, 1074, 1104, G_BAR_START, G_BAR_END, '#0028c8'),
                                       (17, 1331, 1361, I_BAR_START, I_BAR_END, '#c00000')]:
    ya = yax(n, top, bot, [0, 30])
    for s, e in zip(starts, ends):
        shapes.append(dict(type='rect', xref='x', yref=ya, x0=s, x1=e, y0=10.5, y1=22,
                           line=dict(width=0), fillcolor=col))
        text((s + e) / 2, 5.3, '\u2013', ya, 'center', 9)

layout['shapes'] = shapes
layout['annotations'] = annots
fig.update_layout(**layout)
fig.write_html("out.html", config={'displayModeBar': False},
               post_script="document.body.style.margin='0';document.body.style.overflow='hidden';")
